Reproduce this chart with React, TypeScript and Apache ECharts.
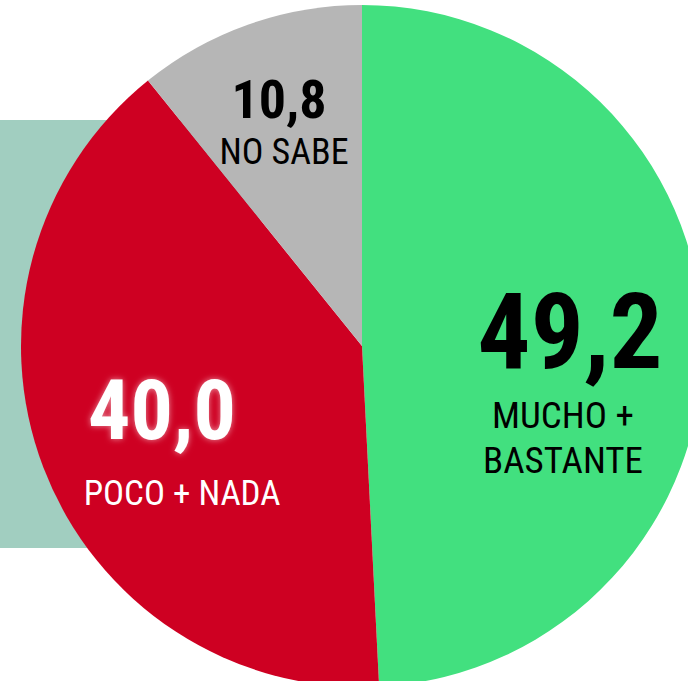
import React, { useEffect, useRef } from 'react';
import * as echarts from 'echarts';

// ---- data ----
const categories = ['MUCHO +\nBASTANTE', 'POCO + NADA', 'NO SABE'];
const values = [49.2, 40.0, 10.8];
const valueLabels = ['49,2', '40,0', '10,8'];

// ---- styles / layout ----
const sliceColors = ['#42E07F', '#CE0022', '#B6B6B6'];
const textColors = ['#000000', '#FFFFFF', '#000000'];
const valueFontSizes = [105, 84, 54];
const nameFontSizes = [37, 35, 36];
const valueLineHeights = [121, 132, 68];
const nameLineHeights = [45, 35, 37];
const valuePadding = [
  [0, 0, 0, 14],
  [0, 40, 0, 0],
  [0, 10, 0, 0],
];
const labelX = [563, 182, 284];
const labelY = [272, 344, 65];

const FONT = "'Roboto Condensed', 'Liberation Sans Narrow', 'DejaVu Sans Condensed', 'Liberation Sans', sans-serif";

export default function App() {
  const ref = useRef<HTMLDivElement>(null);
  useEffect(() => {
    if (!ref.current) return;
    const chart = echarts.init(ref.current, undefined, { renderer: 'svg' });
    const data = categories.map((name, i) => ({
      name,
      value: values[i],
      itemStyle: { color: sliceColors[i] },
      label: {
        formatter: () =>
          `{v|${valueLabels[i]}}\n` + name.split('\n').map((l) => `{n|${l}}`).join('\n'),
        rich: {
          v: {
            fontSize: valueFontSizes[i],
            fontWeight: 'bold',
            fontFamily: FONT,
            color: textColors[i],
            lineHeight: valueLineHeights[i],
            padding: valuePadding[i],
            align: 'center',
            ...(i === 1
              ? { textShadowColor: 'rgba(255,255,255,0.55)', textShadowBlur: 6 }
              : {}),
          },
          n: {
            fontSize: nameFontSizes[i],
            fontFamily: FONT,
            color: textColors[i],
            lineHeight: nameLineHeights[i],
            align: 'center',
          },
        },
      },
    }));
    chart.setOption({
      animation: false,
      backgroundColor: '#FFFFFF',
      graphic: [
        {
          type: 'rect',
          z: 0,
          shape: { x: 0, y: 120, width: 260, height: 428 },
          style: { fill: '#A1CEC0' },
          silent: true,
        },
      ],
      series: [
        {
          type: 'pie',
          z: 2,
          center: [362, 346],
          radius: 341,
          startAngle: 90,
          clockwise: true,
          silent: true,
          label: { show: true, position: 'inside' },
          labelLine: { show: false },
          labelLayout: (p: any) => ({
            x: labelX[p.dataIndex],
            y: labelY[p.dataIndex],
            align: 'center',
            verticalAlign: 'top',
          }),
          emphasis: { disabled: true },
          data,
        },
      ],
    });
    return () => chart.dispose();
  }, []);
  return (
    <div
      ref={ref}
      style={{ position: 'fixed', left: 0, top: 0, width: 688, height: 681 }}
    />
  );
}
